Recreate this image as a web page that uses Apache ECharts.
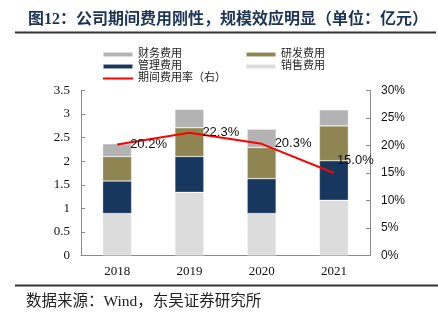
<!DOCTYPE html>
<html>
<head>
<meta charset="utf-8">
<script src="https://cdn.jsdelivr.net/npm/echarts@6/dist/echarts.min.js"></script>
<style>
html,body{margin:0;padding:0;background:#fff;}
#chart{width:438px;height:321px;}
</style>
</head>
<body>
<div id="chart"></div>
<script>
var categories = ['2018', '2019', '2020', '2021'];
var salesExp = [0.89, 1.34, 0.89, 1.17];     // 销售费用
var mgmtExp = [0.69, 0.76, 0.74, 0.84];      // 管理费用
var rdExp = [0.52, 0.61, 0.66, 0.74];        // 研发费用
var finExp = [0.27, 0.39, 0.39, 0.34];       // 财务费用
var expenseRate = [20.2, 22.3, 20.3, 15.0];  // 期间费用率（右）, %
var leftTicks = [0, 3.5, 0.5];
var rightTicks = [0, 30, 5];

var serif = 'Liberation Serif, "Noto Sans CJK SC", serif';
var cjk = '"Liberation Serif", "Noto Sans CJK SC", sans-serif';
var axisColor = '#8a8a8a';

var chart = echarts.init(document.getElementById('chart'), null, {renderer: 'canvas'});

function barSeries(name, data, color) {
  return {
    name: name, type: 'bar', stack: 'exp', data: data, barWidth: 29,
    yAxisIndex: 0,
    itemStyle: {color: color, borderColor: 'rgba(255,255,255,0.55)', borderWidth: 0.6},
    emphasis: {disabled: true}
  };
}

var rateData = expenseRate.map(function (v, i) {
  if (i === expenseRate.length - 1) {
    return {value: v, label: {distance: 3, offset: [0, -13]}};
  }
  return v;
});

chart.setOption({
  animation: false,
  backgroundColor: '#fff',
  title: {
    text: '图12：公司期间费用刚性，规模效应明显（单位：亿元）',
    left: 23, top: 7,
    textStyle: {fontSize: 16, fontWeight: 'bold', color: '#1c3557', fontFamily: cjk}
  },
  graphic: [
    {type: 'line', shape: {x1: 15, y1: 32.5, x2: 436, y2: 32.5}, style: {stroke: '#333', lineWidth: 2}},
    {type: 'line', shape: {x1: 15, y1: 285.5, x2: 438, y2: 285.5}, style: {stroke: '#333', lineWidth: 2}},
    {type: 'text', left: 26, top: 294, style: {text: '数据来源：Wind，东吴证券研究所', fontSize: 15.5, fill: '#222', fontFamily: cjk}}
  ],
  legend: [
    {
      data: ['财务费用', '管理费用', {name: '期间费用率（右）', icon: 'path://M0,0H30V2H0Z'}],
      orient: 'vertical', left: 97, top: 44, itemWidth: 30, itemHeight: 5, itemGap: 1,
      textStyle: {fontSize: 11, color: '#222', fontFamily: cjk},
      selectedMode: false
    },
    {
      data: ['研发费用', '销售费用'],
      orient: 'vertical', left: 240, top: 44, itemWidth: 30, itemHeight: 5, itemGap: 1,
      textStyle: {fontSize: 11, color: '#222', fontFamily: cjk},
      selectedMode: false
    }
  ],
  grid: {left: 81, right: 68, top: 90.5, bottom: 65.5, containLabel: false},
  xAxis: {
    type: 'category', data: categories,
    axisLine: {lineStyle: {color: axisColor}},
    axisTick: {inside: true, length: 4, lineStyle: {color: axisColor}},
    axisLabel: {fontSize: 13, color: '#111', fontFamily: serif, margin: 10}
  },
  yAxis: [
    {
      type: 'value', min: leftTicks[0], max: leftTicks[1], interval: leftTicks[2],
      axisLine: {show: true, lineStyle: {color: axisColor}},
      axisTick: {show: true, inside: true, length: 4, lineStyle: {color: axisColor}},
      splitLine: {show: false},
      axisLabel: {fontSize: 13, color: '#111', fontFamily: serif, margin: 11}
    },
    {
      type: 'value', min: rightTicks[0], max: rightTicks[1], interval: rightTicks[2], position: 'right',
      axisLine: {show: true, lineStyle: {color: axisColor}},
      axisTick: {show: true, inside: true, length: 4, lineStyle: {color: axisColor}},
      splitLine: {show: false},
      axisLabel: {fontSize: 12, color: '#111', fontFamily: 'Liberation Sans, Arial, sans-serif', margin: 11, formatter: '{value}%'}
    }
  ],
  series: [
    barSeries('销售费用', salesExp, '#dcdcdc'),
    barSeries('管理费用', mgmtExp, '#17375e'),
    barSeries('研发费用', rdExp, '#8e8552'),
    barSeries('财务费用', finExp, '#b3b3b3'),
    {
      name: '期间费用率（右）', type: 'line', yAxisIndex: 1, data: rateData,
      symbol: 'circle', symbolSize: 0.01, showSymbol: true,
      lineStyle: {color: '#ff0000', width: 2},
      itemStyle: {color: '#ff0000'},
      label: {
        show: true, position: 'right', distance: 13,
        fontSize: 13, color: '#111', fontFamily: 'Liberation Sans, Arial, sans-serif',
        formatter: function (p) { return p.value.toFixed(1) + '%'; }
      },
      emphasis: {disabled: true},
      z: 5
    }
  ]
});
</script>
</body>
</html>
